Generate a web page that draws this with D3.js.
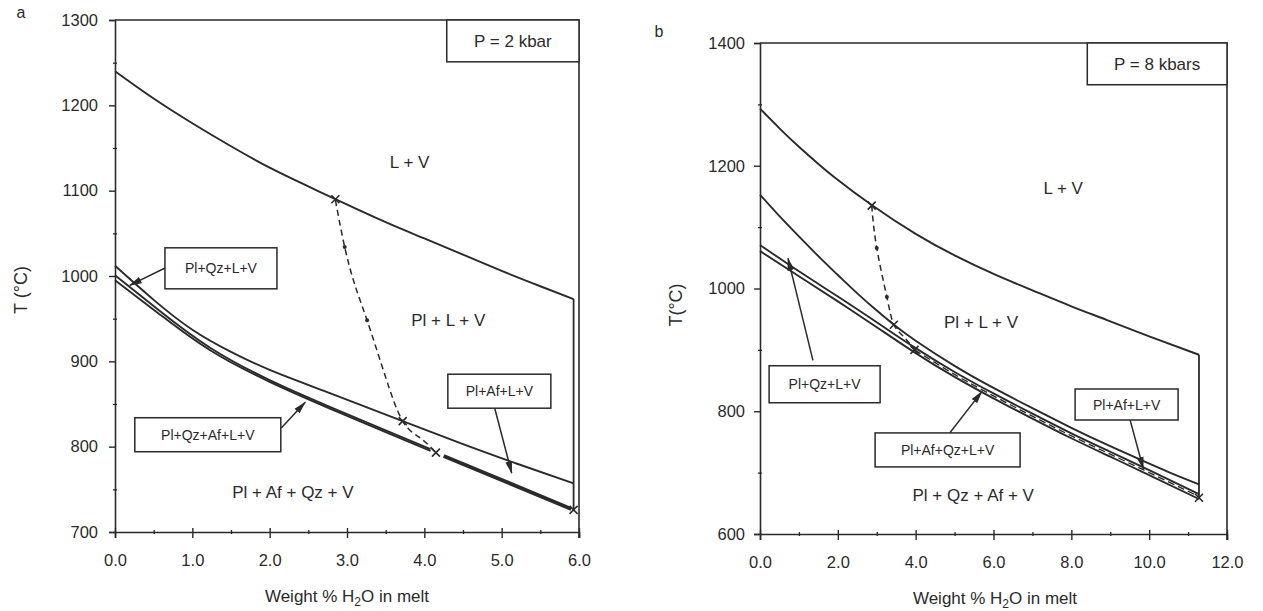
<!DOCTYPE html>
<html>
<head>
<meta charset="utf-8">
<script src="https://cdn.jsdelivr.net/npm/d3@7"></script>
<style>
  body { margin: 0; background: #fff; }
  svg text { font-family: "Liberation Sans", Arial, Helvetica, sans-serif; fill: #2b2b2b; }
</style>
</head>
<body>
<svg id="chart" width="1263" height="611"></svg>
<script>
// ---------- panel a : P = 2 kbar ----------
const aXMajor = [0, 1, 2, 3, 4, 5, 6];
const aXMinor = [0.5, 1.5, 2.5, 3.5, 4.5, 5.5];
const aYMajor = [700, 800, 900, 1000, 1100, 1200, 1300];
const aYMinor = [750, 850, 950, 1050, 1150, 1250];

const aLiquidus = [[0,1240],[0.5,1208],[1.0,1179],[1.5,1152],[2.0,1127],[2.5,1105],[2.85,1090],[3.5,1063],[4.0,1044],[4.5,1025],[5.0,1006],[5.5,988],[5.93,973]];
const aPlBoundary = [[0,1012],[0.5,972],[1.0,937],[1.5,911],[2.0,890],[2.77,863],[3.72,830],[4.5,803],[5.2,780],[5.93,757]];
const aSolidusUpper = [[0,1001],[0.58,959],[1.23,916],[2.0,878],[2.77,847],[3.5,819],[4.08,797]];
const aSolidusLower = [[0,995],[0.58,955],[1.23,913],[2.0,876],[2.77,845],[3.5,817],[4.08,795]];
const aSolidusEnd = [[4.25,789],[5.0,761],[5.9,727]];
const aDashed = [[2.85,1089],[2.97,1034],[3.1,990],[3.26,948],[3.49,884],[3.72,830],[3.95,810],[4.15,793]];
const aRightEdge = [[5.93,973],[5.93,726]];
const aCrosses = [[2.85,1090],[3.72,830],[4.15,793],[5.93,726]];
const aDots = [[2.97,1034],[3.26,948]];

const aLabels = [
  { text: "L + V", x: 3.81, T: 1134 },
  { text: "Pl + L + V", x: 4.31, T: 948 },
  { text: "Pl + Af + Qz + V", x: 2.3, T: 747 }
];
const aBoxes = [
  { text: "Pl+Qz+L+V", x: 1.37, T: 1009, w: 112, h: 41 },
  { text: "Pl+Qz+Af+L+V", x: 1.2, T: 814, w: 146, h: 34 },
  { text: "Pl+Af+L+V", x: 4.97, T: 865, w: 103, h: 34 }
];
const aArrows = [
  { from: [0.66, 1010], to: [0.19, 989] },
  { from: [2.15, 822], to: [2.46, 852] },
  { from: [4.91, 845], to: [5.13, 769] }
];

// ---------- panel b : P = 8 kbars ----------
const bXMajor = [0, 2, 4, 6, 8, 10, 12];
const bXMinor = [1, 3, 5, 7, 9, 11];
const bYMajor = [600, 800, 1000, 1200, 1400];
const bYMinor = [700, 900, 1100, 1300];

const bLiquidus = [[0,1293],[0.5,1261],[1.0,1231],[1.5,1203],[1.92,1181],[2.87,1136],[4.0,1089],[5.0,1054],[6.03,1023],[7.0,997],[8.0,971],[8.9,949],[10.0,922],[11.28,892]];
const bPlBoundary = [[0,1153],[0.5,1118],[1.0,1085],[1.59,1047],[2.0,1022],[2.5,992],[3.0,964],[3.44,941],[4.0,915],[5.0,874],[6.0,838],[7.0,805],[8.0,773],[9.0,743],[9.74,722],[10.5,701],[11.28,681]];
const bSolidusUpper = [[0,1071],[1,1028],[2,987],[3,945],[3.97,904],[5,864],[6,829],[7,796],[8,764],[9,734],[10,704],[11.28,665]];
const bSolidusLower = [[0,1061],[1,1020],[2,979],[3,937],[3.97,896],[5,856],[6,821],[7,788],[8,756],[9,726],[10,696],[11.28,657]];
const bSolidusMid = [[3.97,900],[5,860],[6,825],[7,792],[8,760],[9,730],[10,700],[11.28,661]];
const bDashed = [[2.87,1135],[3.0,1066],[3.26,986],[3.44,941],[3.7,921],[3.97,900]];
const bRightEdge = [[11.28,892],[11.28,659]];
const bCrosses = [[2.87,1135],[3.44,941],[3.97,900],[11.28,659]];
const bDots = [[3.0,1066],[3.26,986]];

const bLabels = [
  { text: "L + V", x: 7.79, T: 1164 },
  { text: "Pl + L + V", x: 5.68, T: 945 },
  { text: "Pl + Qz + Af + V", x: 5.48, T: 664 }
];
const bBoxes = [
  { text: "Pl+Qz+L+V", x: 1.66, T: 844, w: 111, h: 37 },
  { text: "Pl+Af+Qz+L+V", x: 4.82, T: 737, w: 145, h: 34 },
  { text: "Pl+Af+L+V", x: 9.42, T: 811, w: 103, h: 31 }
];
const bArrows = [
  { from: [1.36, 883], to: [0.72, 1049] },
  { from: [4.88, 765], to: [5.70, 832] },
  { from: [9.51, 786], to: [9.85, 706] }
];

const ink = "#2a2a2a";
const svg = d3.select("#chart");

svg.append("defs").append("marker")
  .attr("id", "head")
  .attr("viewBox", "0 0 13 8")
  .attr("refX", 12).attr("refY", 4)
  .attr("markerWidth", 13).attr("markerHeight", 8)
  .attr("markerUnits", "userSpaceOnUse")
  .attr("orient", "auto")
  .append("path").attr("d", "M0,0.6L13,4L0,7.4z").attr("fill", ink);

const panels = [
  {
    x: d3.scaleLinear().domain([0, 6]).range([115, 579]),
    y: d3.scaleLinear().domain([700, 1300]).range([532, 20]),
    xMajor: aXMajor, xMinor: aXMinor, yMajor: aYMajor, yMinor: aYMinor,
    solid: [aLiquidus, aPlBoundary, aSolidusUpper, aSolidusLower],
    edge: aRightEdge,
    thick: [aSolidusEnd], dashed: [aDashed], inner: [],
    crosses: aCrosses, dots: aDots, labels: aLabels, boxes: aBoxes, arrows: aArrows,
    pBox: { text: "P = 2 kbar", x0: 4.29, T0: 1251 },
    letter: { text: "a", px: 21, py: 18 },
    yTitle: { text: "T (°C)", px: 27, py: 290 },
    xTitleX: 347, xTitleY: 602, yLabelGap: 11
  },
  {
    x: d3.scaleLinear().domain([0, 12]).range([760, 1227]),
    y: d3.scaleLinear().domain([600, 1400]).range([534, 43]),
    xMajor: bXMajor, xMinor: bXMinor, yMajor: bYMajor, yMinor: bYMinor,
    solid: [bLiquidus, bPlBoundary, bSolidusUpper, bSolidusLower],
    edge: bRightEdge,
    thick: [], dashed: [bDashed], inner: [bSolidusMid],
    crosses: bCrosses, dots: bDots, labels: bLabels, boxes: bBoxes, arrows: bArrows,
    pBox: { text: "P = 8 kbars", x0: 8.41, T0: 1332 },
    letter: { text: "b", px: 659, py: 37 },
    yTitle: { text: "T(°C)", px: 682, py: 305 },
    xTitleX: 995, xTitleY: 604, yLabelGap: 9
  }
];

function drawPanel(p) {
  const g = svg.append("g");
  const x = p.x, y = p.y;
  const [x0, x1] = x.domain(), [y0, y1] = y.domain();

  // frame top + right
  g.append("path")
    .attr("d", `M${x(x0)},${y(y1)}H${x(x1)}V${y(y0) + 6}`)
    .attr("fill", "none").attr("stroke", ink).attr("stroke-width", 1.6);

  // x axis
  const gx = g.append("g")
    .attr("transform", `translate(0,${y(y0)})`)
    .call(d3.axisBottom(x).tickValues(p.xMajor).tickSize(6).tickPadding(10).tickFormat(d3.format(".1f")))
    .attr("font-size", 16.5);
  gx.select(".domain").attr("stroke", ink).attr("stroke-width", 1.6);
  gx.selectAll(".tick line").attr("y1", -4).attr("stroke", ink).attr("stroke-width", 1.4);
  gx.selectAll(".tick text").attr("y", 22).attr("dy", "0.71em").attr("fill", "#333");
  const gxm = g.append("g").attr("transform", `translate(0,${y(y0)})`)
    .call(d3.axisBottom(x).tickValues(p.xMinor).tickSize(2).tickFormat(""));
  gxm.select(".domain").remove();
  gxm.selectAll(".tick line").attr("y1", -2).attr("stroke", ink).attr("stroke-width", 1.3);

  // y axis
  const gy = g.append("g")
    .attr("transform", `translate(${x(x0)},0)`)
    .call(d3.axisLeft(y).tickValues(p.yMajor).tickSize(6).tickPadding(p.yLabelGap).tickFormat(d3.format("d")))
    .attr("font-size", 16.5);
  gy.select(".domain").attr("stroke", ink).attr("stroke-width", 1.6);
  gy.selectAll(".tick line").attr("stroke", ink).attr("stroke-width", 1.4);
  gy.selectAll(".tick text").attr("fill", "#333");
  const gym = g.append("g").attr("transform", `translate(${x(x0)},0)`)
    .call(d3.axisLeft(y).tickValues(p.yMinor).tickSize(2).tickFormat(""));
  gym.select(".domain").remove();
  gym.selectAll(".tick line").attr("x1", 2).attr("stroke", ink).attr("stroke-width", 1.3);

  const line = d3.line().x(d => x(d[0])).y(d => y(d[1])).curve(d3.curveNatural);
  const straight = d3.line().x(d => x(d[0])).y(d => y(d[1]));

  g.selectAll(".solid").data(p.solid).enter().append("path")
    .attr("d", line)
    .attr("fill", "none").attr("stroke", ink).attr("stroke-width", 1.9);
  g.append("path").attr("d", straight(p.edge))
    .attr("fill", "none").attr("stroke", ink).attr("stroke-width", 1.8);
  g.selectAll(".thick").data(p.thick).enter().append("path")
    .attr("d", line).attr("fill", "none").attr("stroke", ink).attr("stroke-width", 3.8);
  g.selectAll(".inner").data(p.inner).enter().append("path")
    .attr("d", line).attr("fill", "none").attr("stroke", ink).attr("stroke-width", 1.3)
    .attr("stroke-dasharray", "7,4");
  g.selectAll(".dashed").data(p.dashed).enter().append("path")
    .attr("d", line).attr("fill", "none").attr("stroke", ink).attr("stroke-width", 1.5)
    .attr("stroke-dasharray", "6,4");

  g.selectAll(".dot").data(p.dots).enter().append("circle")
    .attr("cx", d => x(d[0])).attr("cy", d => y(d[1])).attr("r", 2).attr("fill", ink);

  g.selectAll(".cross").data(p.crosses).enter().append("path")
    .attr("transform", d => `translate(${x(d[0])},${y(d[1])})`)
    .attr("d", "M-4,-4L4,4M-4,4L4,-4")
    .attr("stroke", ink).attr("stroke-width", 1.6);

  // arrows
  g.selectAll(".arrow").data(p.arrows).enter().append("line")
    .attr("x1", d => x(d.from[0])).attr("y1", d => y(d.from[1]))
    .attr("x2", d => x(d.to[0])).attr("y2", d => y(d.to[1]))
    .attr("stroke", ink).attr("stroke-width", 1.5)
    .attr("marker-end", "url(#head)");

  // boxed labels
  const bx = g.selectAll(".box").data(p.boxes).enter().append("g")
    .attr("transform", d => `translate(${x(d.x)},${y(d.T)})`);
  bx.append("rect")
    .attr("x", d => -d.w / 2).attr("y", d => -d.h / 2)
    .attr("width", d => d.w).attr("height", d => d.h)
    .attr("fill", "#fff").attr("stroke", ink).attr("stroke-width", 1.5);
  bx.append("text").attr("text-anchor", "middle").attr("dy", "0.36em")
    .attr("font-size", 14).text(d => d.text);

  // region labels
  g.selectAll(".lab").data(p.labels).enter().append("text")
    .attr("x", d => x(d.x)).attr("y", d => y(d.T)).attr("dy", "0.36em")
    .attr("text-anchor", "middle").attr("font-size", 17).text(d => d.text);

  // pressure box
  g.append("rect")
    .attr("x", x(p.pBox.x0)).attr("y", y(y1))
    .attr("width", x(x1) - x(p.pBox.x0)).attr("height", y(p.pBox.T0) - y(y1))
    .attr("fill", "#fff").attr("stroke", ink).attr("stroke-width", 1.5);
  g.append("text")
    .attr("x", (x(p.pBox.x0) + x(x1)) / 2).attr("y", (y(y1) + y(p.pBox.T0)) / 2)
    .attr("dy", "0.36em").attr("text-anchor", "middle").attr("font-size", 17)
    .text(p.pBox.text);

  // panel letter
  g.append("text").attr("x", p.letter.px).attr("y", p.letter.py)
    .attr("text-anchor", "middle").attr("font-size", 16).text(p.letter.text);

  // axis titles
  g.append("text")
    .attr("transform", `translate(${p.yTitle.px},${p.yTitle.py}) rotate(-90)`)
    .attr("text-anchor", "middle").attr("font-size", 18).text(p.yTitle.text);

  const xt = g.append("text").attr("x", p.xTitleX).attr("y", p.xTitleY)
    .attr("text-anchor", "middle").attr("font-size", 17);
  xt.append("tspan").text("Weight % H");
  xt.append("tspan").attr("dy", 4).attr("font-size", 12).text("2");
  xt.append("tspan").attr("dy", -4).text("O in melt");
}

panels.forEach(drawPanel);
</script>
</body>
</html>
